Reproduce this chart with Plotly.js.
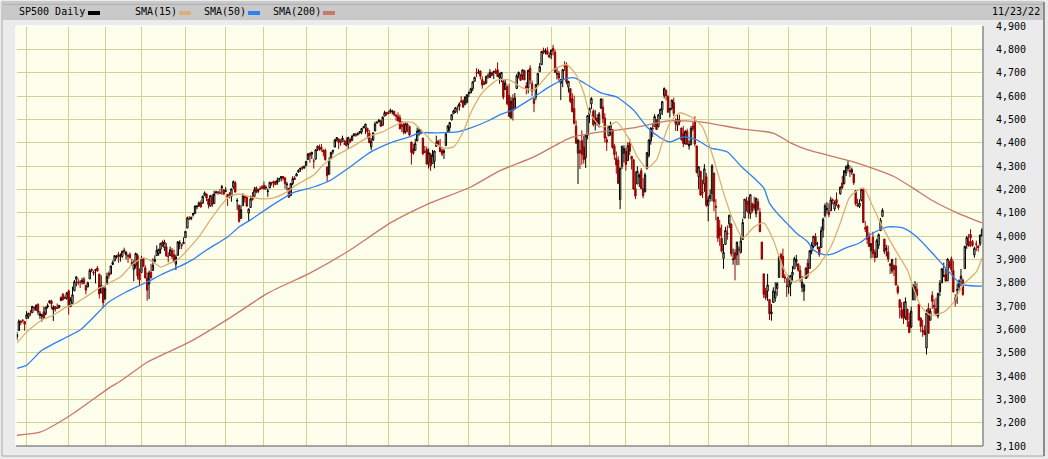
<!DOCTYPE html>
<html><head><meta charset="utf-8">
<script src="https://cdn.plot.ly/plotly-3.0.1.min.js"></script>
<style>html,body{margin:0;padding:0;background:#ebebeb;overflow:hidden}#chart{width:1048px;height:459px}</style>
</head><body><div id="chart"></div>
<script>
// ---------- trading days (Nov 23 2020 .. Nov 23 2022) ----------
const dates = [
"2020-11-23","2020-11-24","2020-11-25","2020-11-27","2020-11-30",
"2020-12-01","2020-12-02","2020-12-03","2020-12-04","2020-12-07","2020-12-08","2020-12-09","2020-12-10","2020-12-11","2020-12-14","2020-12-15","2020-12-16","2020-12-17","2020-12-18","2020-12-21","2020-12-22","2020-12-23","2020-12-24","2020-12-28","2020-12-29","2020-12-30","2020-12-31",
"2021-01-04","2021-01-05","2021-01-06","2021-01-07","2021-01-08","2021-01-11","2021-01-12","2021-01-13","2021-01-14","2021-01-15","2021-01-19","2021-01-20","2021-01-21","2021-01-22","2021-01-25","2021-01-26","2021-01-27","2021-01-28","2021-01-29",
"2021-02-01","2021-02-02","2021-02-03","2021-02-04","2021-02-05","2021-02-08","2021-02-09","2021-02-10","2021-02-11","2021-02-12","2021-02-16","2021-02-17","2021-02-18","2021-02-19","2021-02-22","2021-02-23","2021-02-24","2021-02-25","2021-02-26",
"2021-03-01","2021-03-02","2021-03-03","2021-03-04","2021-03-05","2021-03-08","2021-03-09","2021-03-10","2021-03-11","2021-03-12","2021-03-15","2021-03-16","2021-03-17","2021-03-18","2021-03-19","2021-03-22","2021-03-23","2021-03-24","2021-03-25","2021-03-26","2021-03-29","2021-03-30","2021-03-31",
"2021-04-01","2021-04-05","2021-04-06","2021-04-07","2021-04-08","2021-04-09","2021-04-12","2021-04-13","2021-04-14","2021-04-15","2021-04-16","2021-04-19","2021-04-20","2021-04-21","2021-04-22","2021-04-23","2021-04-26","2021-04-27","2021-04-28","2021-04-29","2021-04-30",
"2021-05-03","2021-05-04","2021-05-05","2021-05-06","2021-05-07","2021-05-10","2021-05-11","2021-05-12","2021-05-13","2021-05-14","2021-05-17","2021-05-18","2021-05-19","2021-05-20","2021-05-21","2021-05-24","2021-05-25","2021-05-26","2021-05-27","2021-05-28",
"2021-06-01","2021-06-02","2021-06-03","2021-06-04","2021-06-07","2021-06-08","2021-06-09","2021-06-10","2021-06-11","2021-06-14","2021-06-15","2021-06-16","2021-06-17","2021-06-18","2021-06-21","2021-06-22","2021-06-23","2021-06-24","2021-06-25","2021-06-28","2021-06-29","2021-06-30",
"2021-07-01","2021-07-02","2021-07-06","2021-07-07","2021-07-08","2021-07-09","2021-07-12","2021-07-13","2021-07-14","2021-07-15","2021-07-16","2021-07-19","2021-07-20","2021-07-21","2021-07-22","2021-07-23","2021-07-26","2021-07-27","2021-07-28","2021-07-29","2021-07-30",
"2021-08-02","2021-08-03","2021-08-04","2021-08-05","2021-08-06","2021-08-09","2021-08-10","2021-08-11","2021-08-12","2021-08-13","2021-08-16","2021-08-17","2021-08-18","2021-08-19","2021-08-20","2021-08-23","2021-08-24","2021-08-25","2021-08-26","2021-08-27","2021-08-30","2021-08-31",
"2021-09-01","2021-09-02","2021-09-03","2021-09-07","2021-09-08","2021-09-09","2021-09-10","2021-09-13","2021-09-14","2021-09-15","2021-09-16","2021-09-17","2021-09-20","2021-09-21","2021-09-22","2021-09-23","2021-09-24","2021-09-27","2021-09-28","2021-09-29","2021-09-30",
"2021-10-01","2021-10-04","2021-10-05","2021-10-06","2021-10-07","2021-10-08","2021-10-11","2021-10-12","2021-10-13","2021-10-14","2021-10-15","2021-10-18","2021-10-19","2021-10-20","2021-10-21","2021-10-22","2021-10-25","2021-10-26","2021-10-27","2021-10-28","2021-10-29",
"2021-11-01","2021-11-02","2021-11-03","2021-11-04","2021-11-05","2021-11-08","2021-11-09","2021-11-10","2021-11-11","2021-11-12","2021-11-15","2021-11-16","2021-11-17","2021-11-18","2021-11-19","2021-11-22","2021-11-23","2021-11-24","2021-11-26","2021-11-29","2021-11-30",
"2021-12-01","2021-12-02","2021-12-03","2021-12-06","2021-12-07","2021-12-08","2021-12-09","2021-12-10","2021-12-13","2021-12-14","2021-12-15","2021-12-16","2021-12-17","2021-12-20","2021-12-21","2021-12-22","2021-12-23","2021-12-27","2021-12-28","2021-12-29","2021-12-30","2021-12-31",
"2022-01-03","2022-01-04","2022-01-05","2022-01-06","2022-01-07","2022-01-10","2022-01-11","2022-01-12","2022-01-13","2022-01-14","2022-01-18","2022-01-19","2022-01-20","2022-01-21","2022-01-24","2022-01-25","2022-01-26","2022-01-27","2022-01-28","2022-01-31",
"2022-02-01","2022-02-02","2022-02-03","2022-02-04","2022-02-07","2022-02-08","2022-02-09","2022-02-10","2022-02-11","2022-02-14","2022-02-15","2022-02-16","2022-02-17","2022-02-18","2022-02-22","2022-02-23","2022-02-24","2022-02-25","2022-02-28",
"2022-03-01","2022-03-02","2022-03-03","2022-03-04","2022-03-07","2022-03-08","2022-03-09","2022-03-10","2022-03-11","2022-03-14","2022-03-15","2022-03-16","2022-03-17","2022-03-18","2022-03-21","2022-03-22","2022-03-23","2022-03-24","2022-03-25","2022-03-28","2022-03-29","2022-03-30","2022-03-31",
"2022-04-01","2022-04-04","2022-04-05","2022-04-06","2022-04-07","2022-04-08","2022-04-11","2022-04-12","2022-04-13","2022-04-14","2022-04-18","2022-04-19","2022-04-20","2022-04-21","2022-04-22","2022-04-25","2022-04-26","2022-04-27","2022-04-28","2022-04-29",
"2022-05-02","2022-05-03","2022-05-04","2022-05-05","2022-05-06","2022-05-09","2022-05-10","2022-05-11","2022-05-12","2022-05-13","2022-05-16","2022-05-17","2022-05-18","2022-05-19","2022-05-20","2022-05-23","2022-05-24","2022-05-25","2022-05-26","2022-05-27","2022-05-31",
"2022-06-01","2022-06-02","2022-06-03","2022-06-06","2022-06-07","2022-06-08","2022-06-09","2022-06-10","2022-06-13","2022-06-14","2022-06-15","2022-06-16","2022-06-17","2022-06-21","2022-06-22","2022-06-23","2022-06-24","2022-06-27","2022-06-28","2022-06-29","2022-06-30",
"2022-07-01","2022-07-05","2022-07-06","2022-07-07","2022-07-08","2022-07-11","2022-07-12","2022-07-13","2022-07-14","2022-07-15","2022-07-18","2022-07-19","2022-07-20","2022-07-21","2022-07-22","2022-07-25","2022-07-26","2022-07-27","2022-07-28","2022-07-29",
"2022-08-01","2022-08-02","2022-08-03","2022-08-04","2022-08-05","2022-08-08","2022-08-09","2022-08-10","2022-08-11","2022-08-12","2022-08-15","2022-08-16","2022-08-17","2022-08-18","2022-08-19","2022-08-22","2022-08-23","2022-08-24","2022-08-25","2022-08-26","2022-08-29","2022-08-30","2022-08-31",
"2022-09-01","2022-09-02","2022-09-06","2022-09-07","2022-09-08","2022-09-09","2022-09-12","2022-09-13","2022-09-14","2022-09-15","2022-09-16","2022-09-19","2022-09-20","2022-09-21","2022-09-22","2022-09-23","2022-09-26","2022-09-27","2022-09-28","2022-09-29","2022-09-30",
"2022-10-03","2022-10-04","2022-10-05","2022-10-06","2022-10-07","2022-10-10","2022-10-11","2022-10-12","2022-10-13","2022-10-14","2022-10-17","2022-10-18","2022-10-19","2022-10-20","2022-10-21","2022-10-24","2022-10-25","2022-10-26","2022-10-27","2022-10-28","2022-10-31",
"2022-11-01","2022-11-02","2022-11-03","2022-11-04","2022-11-07","2022-11-08","2022-11-09","2022-11-10","2022-11-11","2022-11-14","2022-11-15","2022-11-16","2022-11-17","2022-11-18","2022-11-21","2022-11-22","2022-11-23"
];

const open = [
3567,3595,3636,3639,3634,
3646,3654,3668,3671,3695,3683,3706,3659,3656,3675,3666,3696,3714,3722,3684,3698,3693,3694,3723,3750,3736,3733,
3765,3698,3712,3765,3815,3803,3802,3802,3815,3789,3782,3816,3857,3844,3852,3863,3837,3756,3778,
3731,3792,3840,3837,3878,3893,3910,3921,3916,3912,3940,3919,3916,3921,3886,3857,3874,3916,3840,
3843,3904,3864,3819,3794,3844,3852,3892,3916,3925,3943,3974,3950,3954,3913,3916,3938,3920,3879,3917,3969,3963,3967,
3993,4034,4076,4074,4090,4096,4125,4130,4142,4140,4174,4180,4159,4128,4170,4139,4185,4188,4185,4206,4198,
4192,4179,4177,4169,4210,4228,4150,4131,4075,4130,4170,4166,4098,4122,4169,4170,4206,4192,4202,4211,
4217,4207,4191,4206,4229,4234,4233,4229,4243,4248,4255,4249,4220,4205,4173,4225,4249,4257,4274,4285,4293,4291,
4301,4327,4356,4351,4321,4329,4372,4381,4380,4369,4367,4296,4265,4331,4361,4381,4410,4416,4403,4404,4395,
4407,4393,4416,4409,4429,4438,4436,4442,4446,4465,4462,4462,4441,4382,4411,4450,4484,4490,4494,4474,4514,4530,
4529,4534,4532,4535,4518,4513,4507,4475,4479,4447,4477,4470,4403,4374,4367,4407,4438,4442,4420,4362,4371,
4317,4349,4310,4320,4384,4407,4385,4368,4358,4387,4448,4464,4497,4524,4532,4546,4554,4579,4580,4563,4573,
4611,4613,4631,4663,4699,4701,4707,4670,4659,4655,4689,4679,4702,4701,4708,4712,4678,4676,4665,4629,4640,
4603,4505,4589,4548,4632,4691,4691,4688,4710,4643,4636,4719,4653,4588,4595,4650,4704,4734,4795,4789,4794,4775,
4778,4805,4788,4693,4698,4655,4669,4729,4734,4638,4632,4588,4547,4471,4356,4367,4408,4381,4336,4432,
4520,4566,4535,4483,4506,4480,4547,4553,4506,4413,4429,4456,4456,4385,4333,4325,4156,4298,4354,
4363,4323,4401,4342,4327,4203,4223,4253,4280,4203,4189,4288,4345,4407,4462,4469,4493,4470,4523,4541,4603,4624,4599,
4540,4548,4572,4494,4475,4494,4463,4438,4394,4449,4386,4391,4472,4489,4386,4255,4278,4187,4223,4254,
4131,4160,4181,4270,4128,4081,4035,3990,3904,3964,4013,4052,4052,3899,3928,3919,3943,3930,3985,4077,4151,
4150,4095,4138,4135,4096,4147,4102,3974,3838,3764,3764,3728,3666,3715,3734,3775,3822,3921,3913,3825,3786,
3781,3793,3832,3859,3888,3881,3852,3780,3764,3818,3884,3861,3935,3955,3998,3966,3953,3951,4026,4087,
4112,4104,4108,4155,4116,4156,4133,4181,4227,4225,4269,4290,4280,4273,4266,4195,4133,4127,4153,4199,4035,4041,4001,
3937,3995,3931,3909,3960,4023,4084,3987,3941,3932,3881,3850,3875,3871,3782,3727,3683,3686,3652,3687,3633,
3610,3726,3753,3772,3707,3648,3596,3591,3520,3690,3639,3746,3703,3689,3657,3762,3799,3826,3835,3808,3882,
3902,3853,3733,3767,3781,3817,3811,3860,3964,3978,4006,3977,3919,3966,3956,3966,4000
];

const high = [
3590,3642,3637,3644,3634,
3678,3671,3683,3699,3697,3708,3712,3678,3666,3698,3695,3711,3725,3727,3703,3698,3711,3704,3741,3756,3745,3760,
3770,3738,3783,3812,3827,3818,3811,3821,3824,3789,3805,3860,3861,3852,3859,3871,3837,3831,3778,
3784,3843,3848,3872,3895,3916,3918,3932,3926,3937,3950,3934,3922,3930,3903,3896,3929,3925,3861,
3915,3906,3874,3844,3852,3881,3904,3917,3960,3945,3970,3981,3984,3970,3930,3955,3949,3942,3920,3978,3982,3968,3994,
4021,4083,4086,4083,4098,4129,4132,4148,4152,4173,4191,4181,4159,4175,4180,4194,4194,4193,4202,4219,4198,
4209,4179,4188,4203,4238,4236,4162,4135,4132,4183,4172,4169,4117,4173,4189,4210,4213,4203,4213,4218,
4234,4217,4204,4233,4232,4237,4237,4250,4248,4256,4257,4252,4232,4205,4226,4256,4257,4271,4286,4292,4301,4302,
4321,4355,4356,4362,4331,4372,4387,4392,4394,4369,4375,4296,4337,4360,4370,4415,4423,4416,4415,4430,4412,
4422,4424,4416,4430,4441,4439,4445,4449,4462,4468,4480,4462,4454,4419,4444,4490,4493,4502,4496,4513,4537,4531,
4537,4546,4541,4535,4522,4530,4520,4493,4486,4487,4486,4472,4403,4395,4417,4465,4463,4457,4420,4386,4383,
4375,4356,4369,4366,4430,4412,4416,4375,4373,4440,4476,4489,4520,4541,4551,4560,4573,4599,4585,4598,4608,
4620,4635,4663,4683,4719,4715,4709,4685,4665,4688,4697,4715,4702,4709,4718,4744,4699,4703,4665,4673,4646,
4653,4595,4608,4613,4694,4705,4695,4714,4710,4660,4713,4732,4667,4588,4651,4698,4741,4791,4807,4804,4809,4787,
4797,4819,4798,4725,4708,4673,4714,4749,4744,4665,4632,4612,4602,4495,4417,4411,4453,4429,4433,4517,
4550,4595,4543,4540,4522,4531,4590,4589,4526,4426,4473,4490,4456,4395,4362,4342,4295,4385,4389,
4378,4401,4417,4342,4327,4277,4299,4268,4291,4248,4271,4358,4413,4465,4482,4522,4501,4521,4546,4576,4637,4628,4603,
4549,4584,4593,4504,4521,4520,4464,4471,4454,4460,4410,4471,4488,4513,4386,4299,4278,4241,4308,4270,
4170,4200,4308,4270,4158,4081,4069,4049,3965,4039,4046,4091,4052,3946,3943,3975,3956,3999,4075,4158,4168,
4167,4178,4143,4169,4165,4160,4119,3974,3838,3778,3838,3728,3708,3780,3802,3803,3914,3928,3946,3837,3819,
3830,3832,3871,3911,3919,3881,3873,3829,3796,3864,3902,3940,3974,3999,4012,3975,3953,4040,4079,4140,
4145,4140,4168,4161,4152,4187,4137,4211,4258,4280,4302,4325,4302,4293,4266,4195,4160,4157,4201,4203,4063,4045,4015,
3970,4018,3943,3988,4011,4077,4119,3987,3962,3959,3881,3900,3876,3907,3791,3727,3716,3718,3737,3687,3671,
3698,3792,3807,3798,3707,3652,3641,3617,3685,3712,3690,3763,3729,3736,3758,3811,3863,3886,3860,3905,3894,
3912,3894,3751,3796,3814,3859,3818,3958,4001,4009,4029,3983,3954,3980,3962,4006,4034
];

const low = [
3553,3595,3618,3629,3594,
3646,3645,3657,3671,3679,3679,3661,3645,3633,3646,3660,3689,3711,3686,3636,3676,3689,3689,3723,3723,3730,3727,
3663,3695,3705,3765,3784,3789,3777,3792,3793,3750,3780,3816,3845,3830,3797,3848,3732,3756,3694,
3726,3792,3817,3837,3875,3893,3903,3885,3890,3906,3924,3900,3885,3903,3875,3806,3860,3814,3790,
3843,3869,3819,3723,3730,3819,3852,3886,3916,3915,3924,3953,3936,3911,3887,3914,3902,3889,3854,3917,3943,3944,3967,
3993,4034,4068,4068,4083,4096,4115,4124,4121,4140,4171,4150,4118,4126,4124,4139,4182,4176,4182,4177,4175,
4188,4129,4161,4147,4202,4188,4112,4057,4075,4130,4143,4126,4061,4122,4152,4170,4183,4184,4198,4204,
4198,4198,4168,4206,4216,4208,4219,4220,4232,4234,4238,4202,4196,4164,4173,4217,4241,4257,4271,4275,4283,4288,
4301,4327,4314,4330,4289,4329,4364,4367,4362,4341,4323,4233,4262,4331,4350,4381,4405,4373,4387,4404,4390,
4385,4373,4400,4409,4429,4425,4430,4436,4436,4461,4438,4418,4398,4368,4407,4450,4482,4486,4469,4474,4514,4516,
4522,4525,4521,4513,4494,4492,4458,4446,4435,4438,4444,4428,4306,4348,4367,4407,4430,4436,4346,4355,4306,
4289,4279,4310,4290,4384,4386,4361,4342,4330,4387,4448,4447,4496,4524,4527,4524,4537,4569,4552,4563,4568,
4595,4613,4621,4663,4681,4694,4671,4631,4648,4651,4673,4679,4684,4673,4694,4682,4653,4660,4585,4625,4560,
4510,4505,4495,4541,4632,4675,4666,4670,4668,4607,4611,4652,4600,4531,4583,4646,4704,4734,4780,4778,4775,4766,
4758,4774,4699,4671,4663,4582,4638,4707,4650,4615,4569,4530,4478,4395,4223,4287,4305,4310,4292,4414,
4484,4544,4470,4452,4471,4465,4547,4484,4401,4365,4429,4430,4374,4327,4267,4222,4115,4287,4315,
4280,4323,4346,4285,4200,4158,4223,4210,4200,4162,4188,4286,4336,4391,4424,4469,4456,4465,4501,4518,4590,4581,4530,
4508,4539,4514,4450,4450,4475,4408,4381,4393,4391,4370,4391,4449,4384,4268,4201,4175,4163,4189,4124,
4063,4147,4149,4106,4068,3975,3958,3929,3859,3964,3984,4034,3912,3877,3810,3875,3875,3925,3985,4077,4105,
4074,4074,4099,4109,4080,4107,4017,3900,3734,3725,3722,3640,3637,3715,3718,3744,3822,3890,3820,3799,3739,
3752,3742,3809,3859,3869,3847,3802,3759,3722,3817,3819,3861,3922,3947,3956,3943,3911,3951,3993,4079,
4096,4080,4108,4135,4107,4129,4112,4177,4201,4220,4257,4278,4253,4262,4219,4130,4124,4120,4148,4058,4017,3965,3955,
3904,3906,3887,3906,3945,4023,4084,3922,3912,3888,3837,3839,3828,3789,3749,3647,3645,3623,3641,3610,3584,
3605,3726,3723,3739,3637,3588,3568,3577,3492,3580,3639,3687,3667,3656,3647,3742,3799,3824,3804,3808,3863,
3844,3759,3698,3709,3765,3786,3744,3860,3945,3956,3953,3954,3907,3936,3933,3957,3999
];

const close = [
3578,3635,3630,3638,3622,
3662,3669,3667,3699,3692,3702,3673,3668,3663,3647,3695,3701,3722,3709,3695,3687,3690,3703,3735,3727,3732,3756,
3701,3727,3748,3804,3825,3800,3801,3810,3796,3768,3799,3852,3853,3841,3855,3850,3751,3787,3714,
3774,3826,3830,3872,3887,3916,3911,3910,3916,3935,3933,3931,3914,3907,3877,3881,3925,3829,3811,
3902,3870,3820,3768,3842,3821,3875,3899,3939,3943,3969,3963,3974,3915,3913,3941,3911,3889,3910,3975,3971,3959,3973,
4020,4078,4074,4080,4097,4129,4128,4142,4125,4170,4185,4163,4135,4173,4135,4180,4188,4187,4183,4211,4181,
4193,4165,4168,4202,4233,4188,4152,4063,4113,4174,4163,4128,4116,4159,4156,4197,4188,4196,4201,4204,
4202,4208,4193,4230,4227,4227,4220,4239,4247,4255,4247,4224,4222,4166,4225,4246,4242,4266,4281,4291,4292,4298,
4320,4352,4344,4358,4321,4370,4385,4369,4374,4360,4327,4258,4323,4359,4367,4412,4422,4401,4401,4419,4395,
4387,4423,4403,4429,4437,4432,4437,4448,4461,4468,4480,4448,4400,4406,4442,4480,4486,4496,4470,4509,4529,4523,
4524,4537,4535,4520,4514,4493,4459,4469,4443,4481,4474,4433,4358,4354,4396,4449,4455,4443,4353,4359,4308,
4357,4300,4346,4364,4400,4391,4361,4351,4364,4438,4471,4486,4520,4536,4550,4545,4566,4575,4552,4596,4605,
4614,4631,4661,4680,4698,4702,4685,4647,4649,4683,4683,4701,4689,4705,4698,4683,4691,4701,4595,4655,4567,
4513,4577,4538,4592,4687,4701,4667,4712,4669,4634,4710,4669,4621,4568,4649,4697,4726,4791,4786,4793,4779,4766,
4797,4794,4701,4696,4677,4670,4713,4726,4659,4663,4577,4533,4483,4398,4410,4356,4350,4327,4432,4516,
4547,4589,4477,4501,4484,4522,4587,4504,4419,4402,4471,4475,4380,4349,4305,4226,4289,4385,4374,
4306,4387,4363,4329,4201,4171,4278,4260,4204,4173,4262,4358,4412,4463,4461,4512,4456,4520,4543,4576,4632,4602,4530,
4546,4583,4525,4481,4500,4488,4413,4397,4447,4393,4392,4462,4459,4394,4272,4296,4175,4184,4288,4132,
4155,4175,4300,4147,4123,3991,4001,3935,3930,4024,4008,4089,3924,3901,3901,3974,3941,3979,4058,4158,4132,
4101,4177,4109,4121,4161,4116,4018,3901,3750,3735,3790,3667,3675,3765,3760,3796,3912,3900,3822,3819,3785,
3825,3831,3845,3903,3899,3854,3819,3802,3790,3863,3831,3937,3960,3999,3962,3967,3921,4024,4072,4130,
4119,4091,4155,4152,4145,4140,4122,4210,4207,4280,4297,4305,4274,4284,4228,4138,4129,4141,4199,4058,4031,3986,3955,
3967,3924,3908,3980,4006,4067,4110,3933,3946,3901,3873,3900,3856,3790,3758,3693,3655,3647,3719,3640,3586,
3678,3791,3783,3745,3640,3612,3589,3577,3670,3583,3678,3720,3695,3666,3753,3797,3859,3831,3807,3901,3872,
3856,3760,3720,3771,3807,3828,3749,3956,3993,3957,3992,3959,3947,3965,3950,4004,4027
];

// ---------- moving averages (trading-day index, value) ----------
const sma15Idx = [0,5,13,19,26,31,36,43,48,54,60,66,71,75,78,85,90,95,101,106,111,116,122,128,134,141,146,155,160,167,174,181,186,191,196,202,207,212,217,223,228,233,237,243,251,257,264,270,275,280,287,292,296,299,305,310,313,319,324,329,334,337,341,346,353,358,364,369,374,379,385,390,395,400,405,411,418,425,430,435,442,447,452,458,465,468,472,477,484,489,494,501,504];
const sma15Val = [3541,3588,3640,3661,3696,3713,3739,3777,3798,3824,3876,3906,3889,3867,3876,3906,3949,3996,4069,4125,4170,4180,4167,4159,4163,4189,4219,4262,4305,4347,4377,4412,4433,4446,4468,4489,4485,4446,4403,4377,4382,4446,4528,4614,4669,4669,4635,4626,4669,4712,4734,4691,4614,4528,4468,4476,4489,4425,4339,4292,4326,4399,4485,4528,4506,4468,4326,4185,4069,3992,4039,4056,3983,3867,3803,3824,3867,3953,4056,4168,4206,4125,4039,3950,3854,3781,3700,3661,3674,3713,3790,3846,3906];

const sma50Idx = [0,5,13,26,33,40,48,57,68,75,85,92,99,110,116,122,132,144,155,164,174,184,195,205,210,219,230,237,247,252,259,270,278,285,291,296,305,313,322,329,336,341,348,355,362,371,378,386,390,393,397,402,407,413,416,420,423,426,433,440,447,455,463,470,478,486,493,504];
const sma50Val = [3433,3446,3510,3567,3597,3652,3717,3760,3803,3833,3870,3900,3940,3996,4039,4069,4125,4185,4210,4240,4296,4356,4399,4425,4442,4442,4446,4463,4497,4519,4540,4596,4639,4669,4678,4657,4613,4596,4540,4467,4421,4403,4425,4412,4378,4360,4300,4240,4206,4141,4098,4055,4013,3974,3940,3923,3919,3923,3949,3970,4013,4039,4034,3996,3927,3854,3794,3785];

const sma200Idx = [0,12,28,48,55,68,90,111,131,153,174,195,216,237,252,270,289,305,322,340,357,378,395,404,413,435,447,458,468,478,491,504];
const sma200Val = [3146,3159,3232,3348,3383,3459,3545,3648,3755,3841,3940,4056,4142,4210,4279,4339,4421,4446,4463,4493,4489,4459,4441,4399,4369,4322,4290,4255,4205,4152,4099,4056];

// ---------- header texts ----------
const titleText = "SP500 Daily";
const seriesNames = ["SMA(15)", "SMA(50)", "SMA(200)"];
const dateLabel = "11/23/22";

// ---------- sanity ----------
const lens = [dates.length, open.length, high.length, low.length, close.length];
if (lens.some(l => l !== lens[0])) throw new Error("length mismatch " + lens.join(","));

const idx = dates.map((d, i) => i);
const monthStarts = idx.filter(i => i > 0 && dates[i].slice(0, 7) !== dates[i - 1].slice(0, 7));

const C_TAN = '#dcb074', C_BLUE = '#2f80f2', C_RED = '#c8786a';

const traces = [
  {type:'scatter', mode:'lines', x:sma200Idx, y:sma200Val, line:{color:C_RED, width:1.3, shape:'spline', smoothing:0.6}, hoverinfo:'skip'},
  {type:'scatter', mode:'lines', x:sma50Idx, y:sma50Val, line:{color:C_BLUE, width:1.3, shape:'spline', smoothing:0.6}, hoverinfo:'skip'},
  {type:'scatter', mode:'lines', x:sma15Idx, y:sma15Val, line:{color:C_TAN, width:1.3, shape:'spline', smoothing:0.6}, hoverinfo:'skip'},
  {type:'candlestick', x:idx, open:open, high:high, low:low, close:close, text:dates,
   increasing:{line:{color:'#000000', width:1}, fillcolor:'rgba(255,255,255,0)'},
   decreasing:{line:{color:'#990000', width:1}, fillcolor:'#990000'},
   whiskerwidth:0}
];

// paper coordinate helpers (plot area: x 16..983, y 26..446)
const PX = p => (p - 16) / 967;
const PY = p => (446 - p) / 420;

const shapes = [
  {type:'rect', xref:'paper', yref:'paper', x0:PX(2), x1:PX(1044), y0:PY(456), y1:PY(2), line:{color:'#a8a8a8', width:1}, fillcolor:'rgba(0,0,0,0)', layer:'below'},
  {type:'rect', xref:'paper', yref:'paper', x0:PX(3), x1:PX(1043), y0:PY(20), y1:PY(4), line:{width:0}, fillcolor:'#c9c9c9', layer:'below'},
  {type:'line', xref:'paper', yref:'paper', x0:PX(3), x1:PX(1043), y0:PY(4), y1:PY(4), line:{color:'#9c9c9c', width:1}},
  {type:'line', xref:'paper', yref:'paper', x0:PX(1044), x1:PX(1044), y0:PY(456), y1:PY(2), line:{color:'#777777', width:1.5}},
  // plot frame
  {type:'line', xref:'paper', yref:'paper', x0:0, x1:1, y0:1, y1:1, line:{color:'#ffffff', width:1.5}},
  {type:'line', xref:'paper', yref:'paper', x0:0, x1:0, y0:0, y1:1, line:{color:'#ffffff', width:1.5}},
  {type:'line', xref:'paper', yref:'paper', x0:1, x1:1, y0:0, y1:1, line:{color:'#8a8a8a', width:1.5}},
  {type:'line', xref:'paper', yref:'paper', x0:0, x1:1, y0:0, y1:0, line:{color:'#8a8a8a', width:1.5}},
  // legend swatches
  {type:'rect', xref:'paper', yref:'paper', x0:PX(88), x1:PX(100), y0:PY(15), y1:PY(11), line:{width:0}, fillcolor:'#000000'},
  {type:'rect', xref:'paper', yref:'paper', x0:PX(179), x1:PX(191), y0:PY(15), y1:PY(11), line:{width:0}, fillcolor:C_TAN},
  {type:'rect', xref:'paper', yref:'paper', x0:PX(248), x1:PX(260), y0:PY(15), y1:PY(11), line:{width:0}, fillcolor:C_BLUE},
  {type:'rect', xref:'paper', yref:'paper', x0:PX(323), x1:PX(335), y0:PY(15), y1:PY(11), line:{width:0}, fillcolor:C_RED}
];

const hf = {family:'DejaVu Sans Mono, monospace', size:10, color:'#000'};
const annotations = [
  {xref:'paper', yref:'paper', x:PX(17), y:PY(12), xanchor:'left', yanchor:'middle', text:titleText, showarrow:false, font:hf},
  {xref:'paper', yref:'paper', x:PX(133), y:PY(12), xanchor:'left', yanchor:'middle', text:seriesNames[0], showarrow:false, font:hf},
  {xref:'paper', yref:'paper', x:PX(202), y:PY(12), xanchor:'left', yanchor:'middle', text:seriesNames[1], showarrow:false, font:hf},
  {xref:'paper', yref:'paper', x:PX(271), y:PY(12), xanchor:'left', yanchor:'middle', text:seriesNames[2], showarrow:false, font:hf},
  {xref:'paper', yref:'paper', x:PX(1042), y:PY(12), xanchor:'right', yanchor:'middle', text:dateLabel, showarrow:false, font:hf}
];

const layout = {
  width:1048, height:459,
  margin:{l:16, r:65, t:26, b:13, pad:0},
  paper_bgcolor:'#ebebeb',
  plot_bgcolor:'#fefeec',
  showlegend:false,
  hovermode:false,
  boxgap:0,
  xaxis:{range:[-0.5, 504.5], tickmode:'array', tickvals:monthStarts, showticklabels:false, ticks:'',
         showgrid:true, gridcolor:'#d4d096', gridwidth:1, zeroline:false, showline:false,
         rangeslider:{visible:false}, fixedrange:true},
  yaxis:{side:'right', range:[3100, 4900], tick0:3100, dtick:100, tickformat:',d', showgrid:true,
         gridcolor:'#d4d096', gridwidth:1, zeroline:false, showline:false, ticks:'', ticklabelstandoff:12,
         tickfont:{family:'DejaVu Sans Mono, monospace', size:10, color:'#000'}, fixedrange:true},
  shapes:shapes,
  annotations:annotations
};

Plotly.newPlot('chart', traces, layout, {staticPlot:true, displayModeBar:false});
</script>
</body></html>
